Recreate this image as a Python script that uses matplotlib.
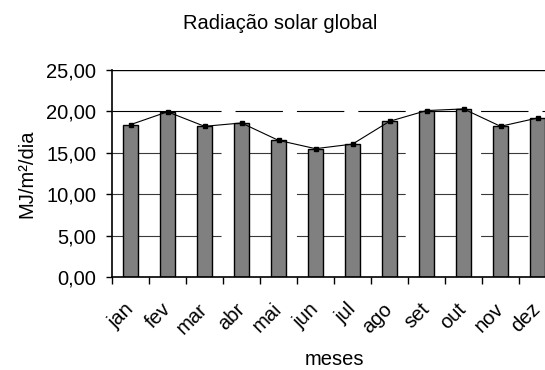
import matplotlib
matplotlib.use("Agg")
import matplotlib.pyplot as plt
import matplotlib.transforms as mtransforms
import numpy as np

plt.rcParams['font.family'] = ['Liberation Sans', 'DejaVu Sans']
plt.rcParams['lines.scale_dashes'] = False

# monthly global solar radiation (MJ/m2/day)
meses = ['jan', 'fev', 'mar', 'abr', 'mai', 'jun', 'jul', 'ago', 'set', 'out', 'nov', 'dez']
radiacao = [18.4, 19.95, 18.2, 18.6, 16.5, 15.5, 16.05, 18.8, 20.1, 20.3, 18.2, 19.2]
yticks = [0, 5, 10, 15, 20, 25]

fs = 14.5

fig = plt.figure(figsize=(5.45, 3.70), dpi=100)
ax = fig.add_axes([112 / 545, 1 - 277 / 370, 444 / 545, 207 / 370])

x = np.arange(len(meses))

# gridlines (Excel style, interrupted)
for v in yticks[1:-1]:
    ax.axhline(v, color='black' if v == 20 else '#3a3a3a', lw=0.8, zorder=0,
               dashes=(78.5, 10.1) + (34.1, 10.1) * 8)
ax.axhline(25, color='black', lw=1.0, zorder=0)

ax.bar(x, radiacao, width=0.42, color='#808080', edgecolor='black', lw=1.0, zorder=2)
ax.plot(x, radiacao, color='black', lw=0.8, marker='s', markersize=3, zorder=3)

ax.set_xlim(-0.5, 11.5)
ax.set_ylim(0, 25)
ax.set_yticks(yticks)
ax.set_yticklabels([f"{v:.2f}".replace('.', ',') for v in yticks], fontsize=fs)
ax.set_xticks(x)
ax.set_xticklabels(meses, rotation=45, fontsize=fs, ha='right', va='center',
                   rotation_mode='anchor')
offset = mtransforms.ScaledTranslation(-0.03, 0, fig.dpi_scale_trans)
for lab in ax.get_xticklabels():
    lab.set_transform(lab.get_transform() + offset)
ax.set_xticks(np.arange(-0.5, 12, 1), minor=True)
ax.tick_params(axis='x', which='major', length=0, pad=21)
ax.tick_params(axis='x', which='minor', length=5, width=1, direction='out')
ax.tick_params(axis='y', length=4.3, width=1, direction='out', pad=7)

for s in ['top', 'right']:
    ax.spines[s].set_visible(False)
for s in ['left', 'bottom']:
    ax.spines[s].set_linewidth(1.2)

ax.set_ylabel('MJ/m²/dia', fontsize=fs, labelpad=7)
ax.set_xlabel('meses', fontsize=fs, va='baseline')
ax.xaxis.set_label_coords(0.5, (277 - 365) / 207)
fig.text(280 / 545, 1 - 29 / 370, 'Radiação solar global', ha='center', va='baseline', fontsize=fs)

fig.savefig('out.png', dpi=100)
